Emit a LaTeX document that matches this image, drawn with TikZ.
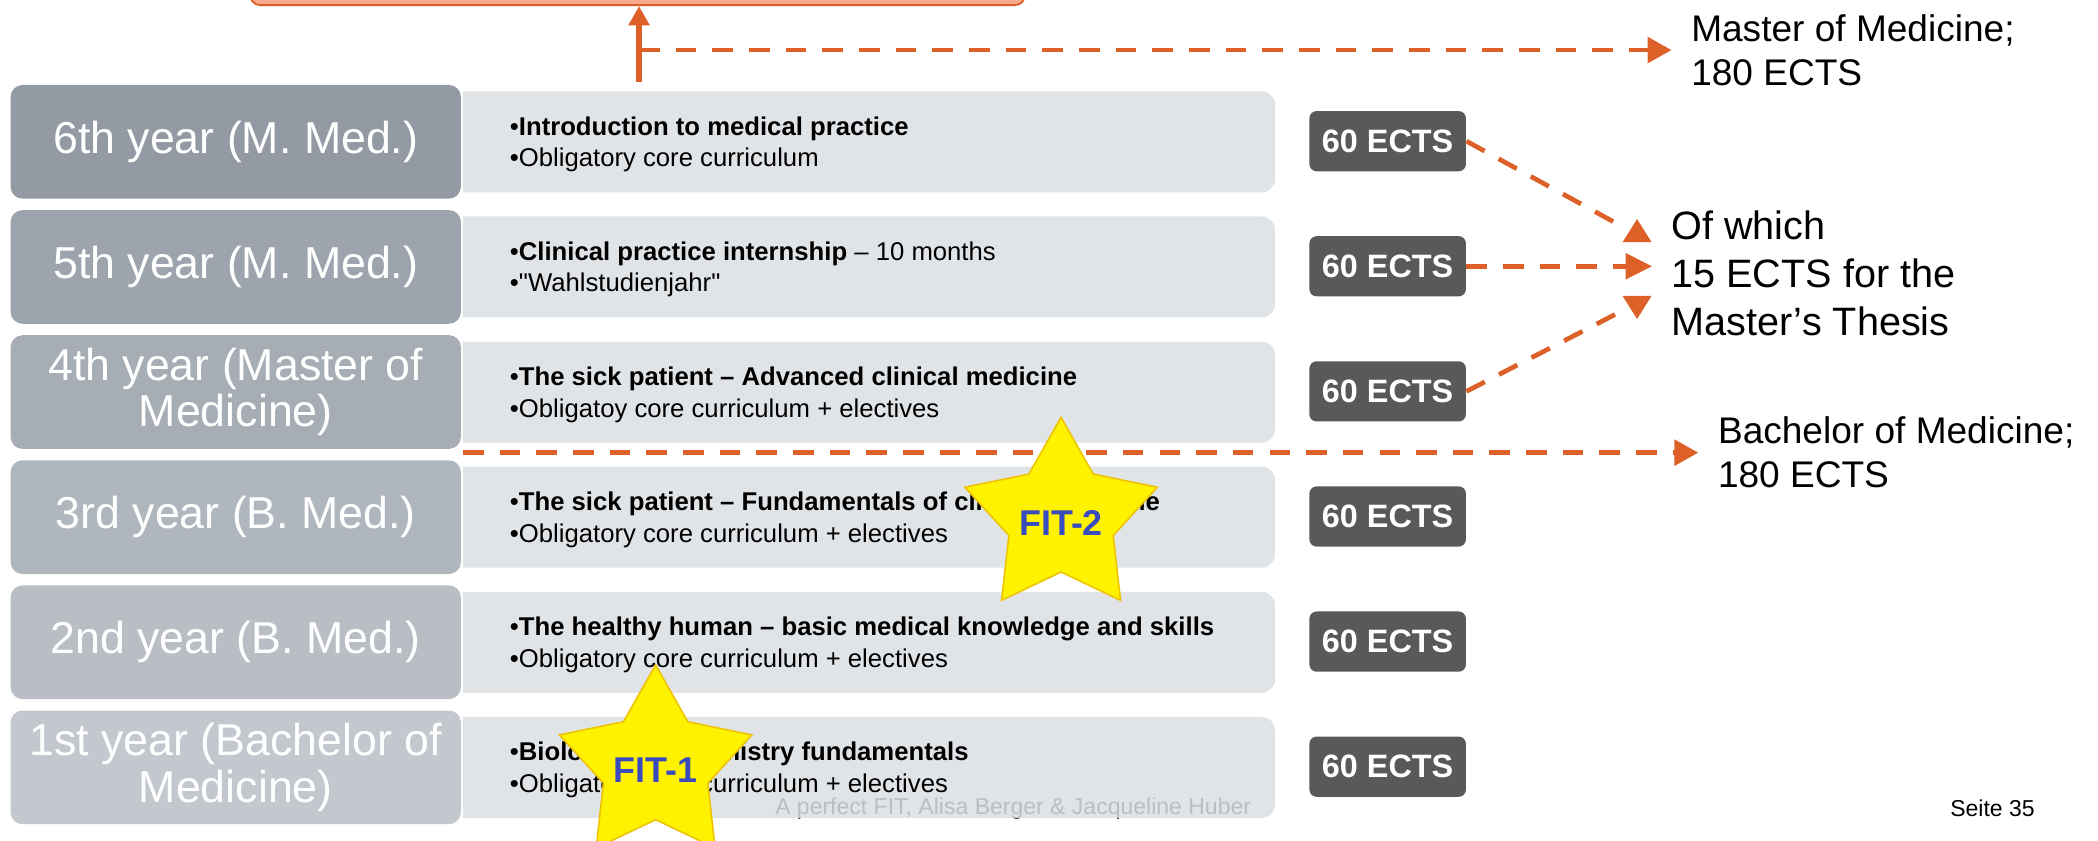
\documentclass[tikz,border=0pt]{standalone}
\usepackage{fontspec}
\setmainfont{Liberation Sans}[Ligatures=TeXOff]
\usetikzlibrary{arrows.meta,calc}
\definecolor{orng}{HTML}{DC6028}
\definecolor{salmon}{HTML}{FBA98C}
\definecolor{cboxc}{HTML}{DCDFE3}
\definecolor{ectsc}{HTML}{595959}
\definecolor{yrsix}{HTML}{939AA4}
\definecolor{yrfive}{HTML}{9DA4AD}
\definecolor{yrfour}{HTML}{A7ADB5}
\definecolor{yrthree}{HTML}{B0B6BD}
\definecolor{yrtwo}{HTML}{B9BEC5}
\definecolor{yrone}{HTML}{C3C8CE}
\definecolor{fitblue}{HTML}{3A4BC0}
\definecolor{stargold}{HTML}{EEC300}
\begin{document}
\begin{tikzpicture}[x=0.5pt,y=-0.5pt,
  yearbox/.style={fill=#1, rounded corners=4.5pt, minimum width=168.3pt, minimum height=42.5pt,
    inner sep=0pt, text=white, align=center, font=\fontsize{16.7}{17.4}\selectfont},
  ctext/.style={anchor=west, inner sep=0pt, align=left, font=\fontsize{9.6}{11.75}\selectfont},
  ectsbox/.style={fill=ectsc, rounded corners=2.7pt, minimum width=58.5pt, minimum height=22.5pt,
    inner sep=0pt, text=white, font=\fontsize{12.1}{14}\selectfont\bfseries},
  rtext/.style={anchor=west, inner sep=0pt, align=left},
  dashline/.style={draw=orng, line width=1.75pt, dash pattern=on 7.7pt off 6pt},
  headtip/.style={-{Triangle[length=9pt,width=9.5pt]}},
  starshape/.style={fill=yellow, draw=stargold, line width=0.6pt, line join=miter},
  fittext/.style={inner sep=0pt, text=fitblue, font=\fontsize{13.4}{15}\selectfont\bfseries},
  foot/.style={anchor=base west, inner sep=0pt, font=\fontsize{8.6}{10}\selectfont}
]
\useasboundingbox (0,0) rectangle (1568,628);

% top box (cut off by the page edge)
\node[fill=salmon, draw=orng, line width=0.7pt, rounded corners=3.75pt,
  minimum width=289.5pt, minimum height=40pt, anchor=south, inner sep=0pt]
  (topbox) at (476.5,4.5) {};

% footer text (lies behind the translucent content box)
\node[foot] (footer) at (579,609) {A perfect FIT, Alisa Berger \& Jacqueline Huber};

% content boxes
\foreach \yc in {106,199.5,293,386.5,480,573.5}{
  \fill[cboxc, fill opacity=0.85] (346,\yc-37.75) -- (943,\yc-37.75)
    arc[start angle=90,end angle=0,radius=5pt] -- (953,\yc+27.75)
    arc[start angle=0,end angle=-90,radius=5pt] -- (346,\yc+37.75) -- cycle;
}

% year boxes
\node[yearbox=yrsix]   (y6) at (176.2,106)   {6th year (M. Med.)};
\node[yearbox=yrfive]  (y5) at (176.2,199.5) {5th year (M. Med.)};
\node[yearbox=yrfour]  (y4) at (176.2,293)   {4th year (Master of\\Medicine)};
\node[yearbox=yrthree] (y3) at (176.2,386.5) {3rd year (B. Med.)};
\node[yearbox=yrtwo]   (y2) at (176.2,480)   {2nd year (B. Med.)};
\node[yearbox=yrone]   (y1) at (176.2,573.5) {1st year (Bachelor of\\Medicine)};

% content texts
\node[ctext] (c6) at (380.7,108)   {•\textbf{Introduction to medical practice}\\•Obligatory core curriculum};
\node[ctext] (c5) at (380.7,201.5) {•\textbf{Clinical practice internship} – 10 months\\•"Wahlstudienjahr"};
\node[ctext] (c4) at (380.7,295)   {•\textbf{The sick patient – Advanced clinical medicine}\\•Obligatoy core curriculum + electives};
\node[ctext] (c3) at (380.7,388.5) {•\textbf{The sick patient – Fundamentals of clinical medicine}\\•Obligatory core curriculum + electives};
\node[ctext] (c2) at (380.7,482)   {•\textbf{The healthy human – basic medical knowledge and skills}\\•Obligatory core curriculum + electives};
\node[ctext] (c1) at (380.7,575.5) {•\textbf{Biology and chemistry fundamentals}\\•Obligatory core curriculum + electives};

% ECTS boxes
\node[ectsbox] (e6) at (1037.1,105.5) {60 ECTS};
\node[ectsbox] (e5) at (1037.1,199)   {60 ECTS};
\node[ectsbox] (e4) at (1037.1,292.5) {60 ECTS};
\node[ectsbox] (e3) at (1037.1,386)   {60 ECTS};
\node[ectsbox] (e2) at (1037.1,479.5) {60 ECTS};
\node[ectsbox] (e1) at (1037.1,573)   {60 ECTS};

% right-hand texts
\node[rtext, font=\fontsize{13.85}{16.5}\selectfont] (master) at (1263.6,37.4) {Master of Medicine;\\180 ECTS};
\node[rtext, font=\fontsize{14.8}{17.9}\selectfont] (thesis) at (1248.8,204) {Of which\\15 ECTS for the\\Master’s Thesis};
\node[rtext, font=\fontsize{13.85}{16.5}\selectfont] (bachelor) at (1283.6,338.3) {Bachelor of Medicine;\\180 ECTS};

% vertical arrow to the top box and dashed branch to "Master"
\coordinate (vbot) at (477.6,61);
\coordinate (mjoin) at (477.6,37.4);
\draw[dashline, headtip] (mjoin) -- ([xshift=-7.15pt]master.west);
\draw[draw=orng, line width=2.25pt, -{Triangle[length=7.2pt,width=7.5pt]}] (vbot) -- (vbot |- topbox.south);

% dashed line to "Bachelor"
\coordinate (bstart) at (346,338.3);
\draw[dashline, headtip] (bstart) -- ([xshift=-7.15pt]bachelor.west);

% arrows to the thesis text
\coordinate (h6) at (1223.5,175.4);
\coordinate (h4) at (1223.5,226.5);
\draw[dashline, shorten >=9.9pt] (e6.east) -- (h6);
\fill[orng] ([shift={(0,-11.7)}]h6) -- ([shift={(-10.8,5.5)}]h6) -- ([shift={(10.8,5.5)}]h6) -- cycle;
\draw[dashline, -{Triangle[length=9.85pt,width=9.4pt]}] (e5.east) -- ([xshift=-7.05pt]thesis.west |- e5.east);
\draw[dashline, shorten >=5.8pt] (e4.east) -- (h4);
\fill[orng] ([shift={(0,11.9)}]h4) -- ([shift={(-10.8,-5.3)}]h4) -- ([shift={(10.8,-5.3)}]h4) -- cycle;

% stars
\begin{scope}[shift={(793,387.5)}]
  \filldraw[starshape] (-90:75.6) -- (-54:41) -- (-18:75.6) -- (18:41) -- (54:75.6) -- (90:40)
    -- (126:75.6) -- (162:41) -- (198:75.6) -- (234:41) -- cycle;
\end{scope}
\node[fittext] (fit2) at (793,390.5) {FIT-2};
\begin{scope}[shift={(490,572.6)}]
  \filldraw[starshape] (-90:75.6) -- (-54:41) -- (-18:75.6) -- (18:41) -- (54:75.6) -- (90:40)
    -- (126:75.6) -- (162:41) -- (198:75.6) -- (234:41) -- cycle;
\end{scope}
\node[fittext] (fit1) at (490,575.5) {FIT-1};

% page number
\node[foot] (page) at (1457.2,610) {Seite 35};
\end{tikzpicture}
\end{document}
